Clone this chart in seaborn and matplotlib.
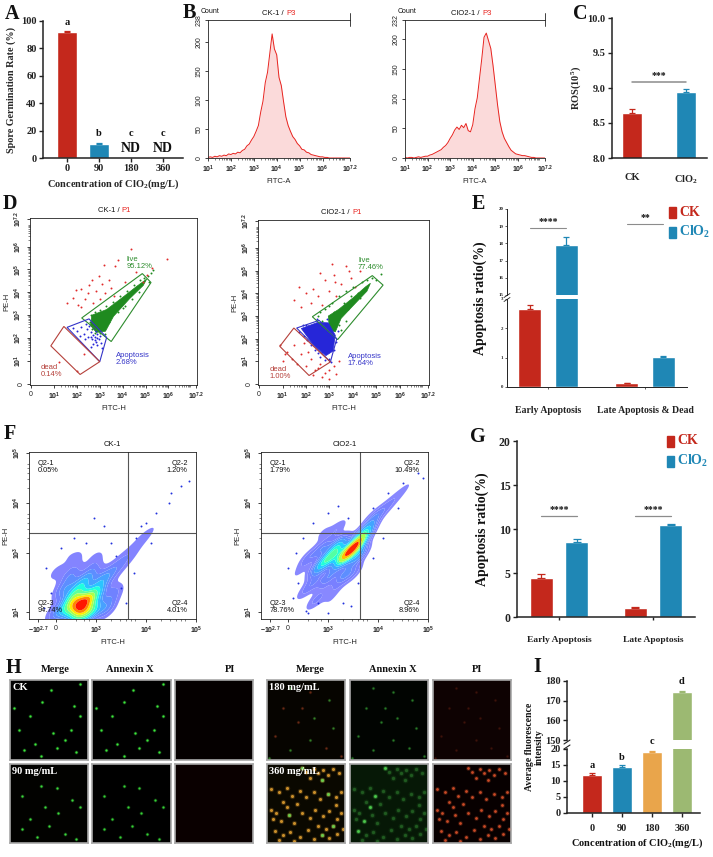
import matplotlib

matplotlib.use("Agg")
import matplotlib.pyplot as plt
import numpy as np
import pandas as pd
import seaborn as sns
from matplotlib.colors import ListedColormap
from matplotlib.container import BarContainer
from matplotlib.lines import Line2D
from matplotlib.patches import Polygon, Rectangle

W, H = 713, 857
SERIF = "Liberation Serif"
SANS = "Liberation Sans"
RED = "#C4281C"
BLUE = "#1F87B5"
ORANGE = "#E9A54B"
OLIVE = "#9CB972"
FLOW_RED = "#E8231F"

# ---------------- data ----------------
# A: spore germination
CONC = ["0", "90", "180", "360"]
GERM_RATE = [92.3, 10.0, 0.0, 0.0]
GERM_ERR = [0.6, 1.3, 0.0, 0.0]
GERM_LETTERS = ["a", "b", "c", "c"]

# B: FITC-A histograms, one count per 0.1 log10 bin from 10^1 to 10^7.2
HIST_LOG = np.round(np.arange(1.0, 7.21, 0.1), 2)
HIST_CK = [1, 2, 1, 3, 2, 4, 3, 5, 4, 7,
           6, 8, 7, 10, 9, 13, 15, 21, 24, 31,
           37, 46, 56, 79, 98, 130, 148, 181, 214, 188,
           178, 139, 125, 97, 71, 56, 46, 37, 32, 25,
           21, 15, 14, 10, 9, 6, 5, 4, 3, 2,
           2, 1, 1, 0, 0, 0, 0, 0, 0, 0,
           0, 0, 0]
HIST_CLO2 = [1, 0, 1, 1, 0, 1, 2, 1, 2, 3,
             3, 5, 6, 8, 10, 12, 14, 18, 21, 26,
             33, 39, 47, 52, 48, 55, 51, 58, 46, 44,
             56, 83, 101, 134, 167, 203, 210, 197, 184, 155,
             122, 89, 61, 44, 33, 26, 19, 13, 10, 7,
             6, 5, 4, 4, 3, 2, 1, 1, 0, 0,
             0, 0, 0]

# C: ROS
ROS_GROUPS = ["CK", "ClO$_2$"]
ROS = [8.65, 8.94]
ROS_ERR = [0.045, 0.045]

# D: gated dot plots (decade units)
D_CK_LIVE_GATE = [(2.21, 2.88), (4.86, 4.82), (5.24, 4.43), (3.50, 1.85)]
D_CK_APO_GATE = [(1.57, 2.47), (2.53, 2.84), (3.30, 2.03), (3.00, 0.97)]
D_CK_DEAD_GATE = [(0.86, 1.66), (1.43, 2.51), (3.00, 0.97), (2.14, 0.41)]
D_CK_GREEN_CORE = [(2.65, 3.00), (3.30, 3.25), (4.00, 3.78), (4.60, 4.25), (5.05, 4.58),
                   (4.90, 4.30), (4.30, 3.72), (3.60, 2.95), (3.25, 2.30), (2.85, 2.25), (2.60, 2.55)]
D_CK_GREEN_DOTS = [(2.60, 3.02), (2.78, 3.12), (3.00, 3.22), (3.28, 3.40), (3.58, 3.58), (3.88, 3.82),
                   (4.18, 4.06), (4.48, 4.30), (4.78, 4.52), (5.10, 4.70), (5.22, 4.85), (3.42, 2.72),
                   (3.80, 3.12), (4.10, 3.42), (4.42, 3.72), (4.72, 4.02), (3.02, 2.22), (2.80, 2.24),
                   (3.22, 2.20), (2.58, 2.70), (5.32, 4.98), (4.02, 3.30), (3.52, 3.22), (2.68, 2.40),
                   (3.10, 2.60), (4.95, 4.62), (5.15, 4.45)]
D_CK_BLUE_DOTS = [(2.00, 2.30), (2.20, 2.50), (2.30, 2.20), (2.45, 2.40), (2.50, 2.05), (2.60, 2.25),
                  (2.65, 1.95), (2.70, 2.15), (2.75, 2.42), (2.80, 2.05), (2.85, 1.85), (2.90, 2.20),
                  (2.95, 1.95), (3.00, 2.10), (2.70, 1.75), (2.55, 2.55), (2.40, 2.62), (2.90, 1.70),
                  (3.05, 1.80), (2.35, 1.95), (2.15, 2.10), (2.60, 1.60), (2.78, 1.90), (2.88, 2.00),
                  (2.82, 2.30), (2.62, 2.05), (1.85, 2.45), (3.10, 1.55)]
D_CK_RED_DOTS = [(1.55, 3.55), (1.85, 3.75), (2.05, 3.45), (2.20, 4.15), (2.35, 3.70), (2.50, 3.95),
                 (2.55, 4.30), (2.70, 3.55), (2.85, 4.05), (3.00, 3.70), (3.10, 4.35), (3.25, 3.95),
                 (3.40, 4.55), (3.50, 4.20), (3.65, 5.15), (3.80, 5.40), (2.95, 4.70), (3.20, 5.20),
                 (4.10, 4.45), (4.60, 4.90), (5.05, 4.75), (5.30, 5.05), (4.90, 4.45), (2.20, 3.35),
                 (1.95, 4.10), (3.60, 3.85), (1.20, 0.95), (2.00, 0.55), (2.30, 1.30), (4.35, 5.88),
                 (5.93, 5.44), (2.65, 4.55)]
D_CK_PCT = ["95.12%", "2.68%", "0.14%"]

D_CL_LIVE_GATE = [(2.27, 2.97), (4.83, 4.79), (5.29, 4.37), (3.35, 1.96)]
D_CL_APO_GATE = [(1.60, 2.47), (2.56, 2.81), (3.31, 1.99), (3.04, 0.97)]
D_CL_DEAD_GATE = [(0.88, 1.66), (1.48, 2.47), (3.04, 0.97), (2.13, 0.37)]
D_CL_GREEN_CORE = [(2.95, 3.00), (3.40, 3.30), (4.00, 3.80), (4.55, 4.30), (4.75, 4.45),
                   (4.60, 4.10), (4.00, 3.45), (3.50, 2.90), (3.25, 2.30), (3.00, 2.40)]
D_CL_BLUE_CORE = [(1.80, 2.45), (2.50, 2.72), (2.95, 2.70), (3.25, 2.15), (3.15, 1.45), (2.85, 1.25), (2.30, 1.75)]
D_CL_GREEN_DOTS = [(2.50, 3.00), (2.80, 3.30), (3.10, 3.60), (3.40, 3.90), (3.70, 4.10), (4.00, 4.30),
                   (4.40, 4.50), (4.80, 4.70), (5.00, 4.60), (2.70, 2.80), (3.20, 3.20), (3.60, 3.60),
                   (4.20, 4.00), (3.50, 2.40), (3.70, 2.80), (3.40, 2.60), (2.60, 3.20), (3.00, 3.45),
                   (3.90, 3.90), (4.60, 4.60), (5.20, 4.85), (3.80, 3.30), (4.30, 3.80)]
D_CL_BLUE_DOTS = [(1.70, 2.30), (1.90, 2.10), (2.10, 2.55), (2.20, 1.70), (2.40, 1.50), (2.60, 1.20),
                  (2.80, 1.05), (3.00, 1.10), (3.20, 1.50), (3.30, 1.85), (3.35, 2.35), (2.00, 2.60),
                  (2.45, 2.85), (2.90, 2.85), (1.85, 2.60), (2.50, 1.35), (2.05, 1.95), (2.70, 1.40),
                  (3.05, 0.95), (1.95, 2.35)]
D_CL_RED_DOTS = [(1.20, 1.40), (1.40, 1.10), (1.60, 0.90), (1.80, 1.30), (2.00, 0.80), (2.20, 1.10),
                 (2.40, 0.60), (2.60, 0.90), (1.50, 1.70), (1.90, 1.80), (2.30, 0.40), (2.70, 0.30),
                 (3.00, 0.60), (3.20, 0.80), (3.00, 0.20), (3.30, 0.45), (1.00, 1.00), (1.10, 1.30),
                 (0.90, 1.70), (2.10, 1.40), (2.50, 0.70), (2.80, 0.50), (3.40, 1.00), (1.50, 3.70),
                 (1.80, 3.40), (2.00, 4.00), (2.20, 3.60), (2.30, 4.20), (2.50, 3.90), (2.70, 3.50),
                 (2.80, 4.60), (3.00, 4.10), (3.20, 4.80), (3.30, 3.90), (3.50, 4.40), (3.70, 5.20),
                 (3.90, 4.70), (4.10, 4.30), (4.30, 5.00), (3.10, 5.30), (2.60, 4.90), (1.70, 4.30),
                 (3.85, 5.00), (3.25, 4.50)]
D_CL_PCT = ["77.46%", "17.64%", "1.00%"]

# E: apoptosis ratio (gated)
E_GROUPS = ["Early Apoptosis", "Late Apoptosis & Dead"]
E_CK = [2.65, 0.12]
E_CK_ERR = [0.14, 0.02]
E_CLO2 = [17.9, 1.02]
E_CLO2_ERR = [0.45, 0.04]
E_SIG = ["****", "**"]

# F: quadrant density plots, (x, y, weight) in display decades
F_CK_DENSITY = [(2.65, 1.95, 10), (2.80, 2.05, 9), (2.55, 2.10, 7), (2.90, 1.85, 7), (2.45, 1.90, 5),
                (2.70, 1.80, 8), (3.00, 2.20, 5), (2.70, 2.35, 5), (2.35, 2.25, 3), (3.10, 2.45, 3),
                (2.50, 2.55, 2.5), (2.90, 2.60, 2.5), (3.30, 2.60, 2), (3.50, 2.80, 1.5), (3.70, 3.00, 1),
                (3.90, 3.25, 0.8), (4.10, 3.45, 0.6), (4.35, 3.70, 0.4), (4.60, 3.95, 0.25), (2.20, 1.80, 2.5),
                (3.20, 1.90, 3), (3.35, 2.20, 2), (2.20, 2.60, 1), (2.60, 2.90, 1), (2.40, 3.00, 0.5),
                (3.00, 2.90, 1)]
F_CK_SPARSE = [(2.30, 3.10), (2.00, 2.70), (2.10, 2.20), (3.50, 2.30), (3.60, 2.00), (3.80, 3.30),
               (4.00, 3.60), (4.20, 3.80), (4.45, 4.00), (4.70, 4.35), (4.85, 4.45), (3.30, 3.20),
               (2.80, 3.20), (1.95, 1.90), (3.75, 2.60), (4.10, 3.20), (4.50, 4.20), (2.55, 3.30),
               (3.40, 2.95), (3.90, 3.55), (3.15, 3.55), (2.95, 3.70)]
F_CK_PCT = ["0.05%", "1.20%", "94.74%", "4.01%"]

F_CL_DENSITY = [(3.50, 3.10, 10), (3.40, 3.00, 9), (3.60, 3.20, 8), (3.30, 2.90, 7), (3.10, 2.95, 6),
                (2.95, 2.85, 5), (3.20, 3.15, 6), (3.60, 2.95, 5), (3.70, 3.35, 5), (3.80, 3.50, 3),
                (2.80, 2.70, 3.5), (2.90, 3.10, 3), (3.00, 2.50, 3), (2.70, 2.40, 2), (2.60, 2.90, 2),
                (3.30, 2.55, 3), (3.50, 2.60, 2), (3.90, 3.70, 2), (4.10, 3.85, 1.5), (4.30, 4.05, 1),
                (4.50, 4.25, 0.7), (4.70, 4.45, 0.4), (2.50, 2.20, 1), (2.80, 2.10, 1.2), (3.10, 2.20, 1.2),
                (2.70, 2.00, 0.8), (3.00, 1.90, 0.6), (2.40, 2.60, 0.8), (3.20, 3.50, 1.5), (2.90, 3.40, 1)]
F_CL_SPARSE = [(2.30, 2.10), (2.20, 2.70), (2.50, 3.30), (2.70, 3.60), (3.00, 3.80), (3.40, 3.70),
               (3.90, 3.90), (4.20, 4.20), (4.50, 4.40), (4.80, 4.60), (4.90, 4.50), (2.60, 1.80),
               (3.00, 1.80), (3.30, 2.00), (2.40, 2.40), (3.90, 2.90), (4.10, 3.30), (2.80, 2.00),
               (3.60, 2.40), (4.40, 3.90), (2.35, 3.00), (3.20, 3.95), (2.55, 1.85), (3.45, 1.95)]
F_CL_PCT = ["1.79%", "10.49%", "78.76%", "8.96%"]

# G: apoptosis ratio (quadrants)
G_GROUPS = ["Early Apoptosis", "Late Apoptosis"]
G_CK = [4.4, 1.0]
G_CK_ERR = [0.5, 0.15]
G_CLO2 = [8.55, 10.4]
G_CLO2_ERR = [0.3, 0.17]

# H: cell positions in the micrographs (fractions of the frame)
H_CK_CELLS = [(0.52, 0.12), (0.90, 0.05), (0.41, 0.28), (0.82, 0.32), (0.25, 0.45), (0.90, 0.45),
              (0.12, 0.62), (0.55, 0.66), (0.78, 0.62), (0.32, 0.80), (0.60, 0.85), (0.18, 0.88),
              (0.40, 0.95), (0.85, 0.90), (0.70, 0.75), (0.05, 0.35)]
H_90_CELLS = [(0.40, 0.28), (0.15, 0.40), (0.80, 0.45), (0.45, 0.55), (0.62, 0.62), (0.90, 0.55),
              (0.25, 0.70), (0.50, 0.78), (0.15, 0.82), (0.70, 0.88), (0.85, 0.95), (0.35, 0.92), (0.60, 0.30)]
H_180_CELLS = [(0.30, 0.10), (0.55, 0.15), (0.80, 0.25), (0.20, 0.35), (0.60, 0.48), (0.40, 0.52),
               (0.85, 0.60), (0.10, 0.70), (0.55, 0.75), (0.75, 0.85), (0.30, 0.88), (0.95, 0.95),
               (0.02, 0.98), (0.45, 0.35)]
H_360_CELLS = [(0.45, 0.05), (0.50, 0.10), (0.60, 0.06), (0.65, 0.12), (0.72, 0.08), (0.78, 0.14),
               (0.85, 0.06), (0.92, 0.12), (0.55, 0.18), (0.70, 0.20), (0.05, 0.32), (0.15, 0.36),
               (0.25, 0.30), (0.32, 0.40), (0.42, 0.34), (0.50, 0.42), (0.60, 0.36), (0.68, 0.44),
               (0.78, 0.38), (0.88, 0.42), (0.95, 0.35), (0.20, 0.48), (0.38, 0.50), (0.05, 0.58),
               (0.12, 0.62), (0.08, 0.70), (0.18, 0.72), (0.28, 0.65), (0.35, 0.75), (0.45, 0.62),
               (0.55, 0.68), (0.62, 0.58), (0.72, 0.66), (0.80, 0.60), (0.90, 0.70), (0.95, 0.62),
               (0.85, 0.78), (0.75, 0.82), (0.65, 0.78), (0.10, 0.85), (0.20, 0.90), (0.30, 0.86),
               (0.42, 0.92), (0.52, 0.84), (0.60, 0.95), (0.70, 0.90), (0.80, 0.94), (0.90, 0.88),
               (0.97, 0.82), (0.15, 0.96), (0.35, 0.97), (0.88, 0.52), (0.25, 0.55)]

# I: fluorescence intensity
FLUO = [11.9, 14.3, 19.0, 174.5]
FLUO_ERR = [0.6, 0.6, 0.5, 0.6]
FLUO_LETTERS = ["a", "b", "c", "d"]

# ---------------- style ----------------
sns.set_theme(style="ticks")
plt.rcParams["font.family"] = [SERIF, "DejaVu Serif"]
plt.rcParams["font.weight"] = "bold"
plt.rcParams["axes.labelweight"] = "bold"
plt.rcParams["axes.edgecolor"] = "#222222"
plt.rcParams["xtick.color"] = "#222222"
plt.rcParams["ytick.color"] = "#222222"
plt.rcParams["text.color"] = "#111111"
plt.rcParams["mathtext.fontset"] = "custom"
plt.rcParams["mathtext.rm"] = "Liberation Serif:bold"
plt.rcParams["mathtext.bf"] = "Liberation Serif:bold"
plt.rcParams["mathtext.it"] = "Liberation Serif:italic:bold"
plt.rcParams["mathtext.sf"] = "Liberation Sans"

fig = plt.figure(figsize=(W / 100, H / 100), dpi=100)
fig.patch.set_facecolor("white")


def px_axes(x0, y0, x1, y1):
    return fig.add_axes([x0 / W, 1 - y1 / H, (x1 - x0) / W, (y1 - y0) / H])


def ftext(x, y, s, **kw):
    fig.text(x / W, 1 - y / H, s, **kw)


def fline(xs, ys, **kw):
    fig.add_artist(Line2D([x / W for x in xs], [1 - y / H for y in ys], transform=fig.transFigure, **kw))


def bar_centers(ax):
    return [[b.get_x() + b.get_width() / 2 for b in c] for c in ax.containers if isinstance(c, BarContainer)]


def up_err(ax, x, y, e, c, cap=2.5):
    ax.errorbar(x, y, yerr=[[0], [e]], fmt="none", ecolor=c, elinewidth=0.9, capsize=cap, capthick=0.9, clip_on=False)


def bar_axes_style(ax, size):
    sns.despine(ax=ax)
    ax.spines["left"].set_linewidth(1.1)
    ax.spines["bottom"].set_linewidth(1.1)
    ax.tick_params(labelsize=size, length=3, width=1, pad=1.5)


def sq_legend(x, y, label, color):
    fig.add_artist(Rectangle((x / W, 1 - (y + 6) / H), 7 / W, 11 / H, transform=fig.transFigure, color=color))
    ftext(x + 10, y, label, color=color, fontsize=10, va="center", ha="left")


def dec(k):
    return r"$\mathsf{10^{%s}}$" % k


def flow_axes(ax):
    for s in ax.spines.values():
        s.set_linewidth(0.6)
        s.set_color("#222222")
    ax.tick_params(which="major", length=2.5, width=0.6, pad=1.5)
    ax.tick_params(which="minor", length=1.5, width=0.4)


def flow_title(ax, left, right):
    t = ax.text(0.55, 1.025, left, transform=ax.transAxes, ha="right", va="bottom",
                fontsize=5.5, family=SANS, weight="normal")
    if right:
        ax.annotate(right, xy=(1, 0), xycoords=t, ha="left", va="bottom",
                    fontsize=5.5, family=SANS, weight="normal", color=FLOW_RED)


def sans_ticks(ax, xt, xl, yt, yl):
    ax.set_xticks(xt, xl, fontsize=5, fontfamily=SANS, fontweight="normal")
    ax.set_yticks(yt, yl, fontsize=5, fontfamily=SANS, fontweight="normal", rotation=90, va="center")


LOG_MINOR = [k + np.log10(m) for k in range(1, 8) for m in range(2, 10) if k + np.log10(m) < 7.2]

# ---------------- A ----------------
axA = px_axes(43, 21, 183, 158)
sns.barplot(x=CONC, y=GERM_RATE, hue=CONC, order=CONC, hue_order=CONC, palette=[RED, BLUE, BLUE, BLUE],
            width=0.65, saturation=1, legend=False, ax=axA)
for i, (v, e) in enumerate(zip(GERM_RATE, GERM_ERR)):
    if e > 0:
        up_err(axA, i, v, e, RED if i == 0 else BLUE)
    if v == 0:
        axA.text(i, 7, "ND", ha="center", va="center", fontsize=10)
for i, let in enumerate(GERM_LETTERS):
    axA.text(i, 99 if i == 0 else 18, let, ha="center", va="center", fontsize=7.5)
axA.set_ylim(0, 100)
axA.set_yticks(range(0, 101, 20))
axA.set_xlim(-0.75, 3.62)
bar_axes_style(axA, 7.5)
axA.set_xlabel("Concentration of ClO$_2$(mg/L)", fontsize=7.5, labelpad=3)
axA.set_ylabel("Spore Germination Rate (%)", fontsize=7.3, labelpad=4)

# ---------------- B ----------------
for rect, counts, ymax, title in [((208, 20, 350, 158), HIST_CK, 238, "CK-1 / "),
                                  ((405, 20, 545, 158), HIST_CLO2, 232, "ClO2-1 / ")]:
    ax = px_axes(*rect)
    ax.fill_between(HIST_LOG, counts, color="#FBDADA", lw=0)
    sns.lineplot(x=HIST_LOG, y=counts, color=FLOW_RED, lw=0.7, ax=ax)
    ax.set_xlim(1, 7.2)
    ax.set_ylim(0, ymax)
    sans_ticks(ax, [1, 2, 3, 4, 5, 6, 7.2], [dec(k) for k in [1, 2, 3, 4, 5, 6, "7.2"]],
               [0, 50, 100, 150, 200, ymax], ["0", "50", "100", "150", "200", str(ymax)])
    ax.set_xticks(LOG_MINOR, minor=True)
    flow_axes(ax)
    ax.spines["right"].set_visible(False)
    ax.plot([1, 1], [0.96, 1.05], transform=ax.transAxes, clip_on=False, lw=0.6, color="#222222")
    ax.set_xlabel("FITC-A", fontsize=5.5, fontfamily=SANS, fontweight="normal", labelpad=2)
    ax.set_ylabel("")
    ax.text(-0.05, 1.035, "Count", transform=ax.transAxes, fontsize=5, family=SANS, weight="normal",
            ha="left", va="bottom")
    flow_title(ax, title, "P3")

# ---------------- C ----------------
axC = px_axes(612, 18, 707, 158)
sns.barplot(x=ROS_GROUPS, y=ROS, hue=ROS_GROUPS, palette=[RED, BLUE], width=0.37, saturation=1,
            legend=False, ax=axC)
for i, (v, e) in enumerate(zip(ROS, ROS_ERR)):
    up_err(axC, i, v, e, [RED, BLUE][i], cap=2.2)
axC.plot([0, 1], [9.09, 9.09], color="#8C8C8C", lw=1.1)
axC.text(0.5, 9.11, "***", ha="center", va="bottom", fontsize=7)
axC.set_ylim(8.0, 10.0)
axC.set_yticks([8.0, 8.5, 9.0, 9.5, 10.0], ["8.0", "8.5", "9.0", "9.5", "10.0"])
axC.set_xlim(-0.37, 1.39)
bar_axes_style(axC, 7.5)
axC.tick_params(axis="x", length=0, pad=11)
axC.set_ylabel("ROS(10$^5$)", fontsize=7.5, labelpad=3)

# ---------------- D ----------------
D_SETS = [
    ((30, 218, 197, 385), "CK-1 / ", D_CK_LIVE_GATE, D_CK_APO_GATE, D_CK_DEAD_GATE, D_CK_GREEN_CORE, None,
     D_CK_GREEN_DOTS, D_CK_BLUE_DOTS, D_CK_RED_DOTS, D_CK_PCT,
     [(4.19, 5.30), (3.71, 1.10), (0.43, 0.56)]),
    ((258, 220, 429, 385), "ClO2-1 / ", D_CL_LIVE_GATE, D_CL_APO_GATE, D_CL_DEAD_GATE, D_CL_GREEN_CORE,
     D_CL_BLUE_CORE, D_CL_GREEN_DOTS, D_CL_BLUE_DOTS, D_CL_RED_DOTS, D_CL_PCT,
     [(4.22, 5.29), (3.78, 1.06), (0.43, 0.46)]),
]
for (rect, title, live, apo, dead, gcore, bcore, gdots, bdots, rdots, pct, lpos) in D_SETS:
    ax = px_axes(*rect)
    ax.add_patch(Polygon(gcore, closed=True, facecolor="#1F8A1F", edgecolor="#1F8A1F", lw=0.5))
    if bcore:
        ax.add_patch(Polygon(bcore, closed=True, facecolor="#2626D8", edgecolor="#2626D8", lw=0.5))
    for pts, col in [(gdots, "#1F8A1F"), (bdots, "#2626D8"), (rdots, "#E02A2A")]:
        xs, ys = zip(*pts)
        sns.scatterplot(x=list(xs), y=list(ys), s=2, color=col, linewidth=0, ax=ax)
    for gate, col in [(live, "#2D8C2D"), (apo, "#3434C8"), (dead, "#B5403A")]:
        ax.add_patch(Polygon(gate, closed=True, fill=False, edgecolor=col, lw=0.8))
    for (tx, ty), name, p, col in zip(lpos, ["live", "Apoptosis", "dead"], pct,
                                      ["#2D8C2D", "#3434C8", "#B5403A"]):
        ax.text(tx, ty, f"{name}\n{p}", color=col, fontsize=5.5, family=SANS, weight="normal",
                ha="left", va="center", linespacing=1.0)
    ax.set_xlim(-0.05, 7.25)
    ax.set_ylim(-0.05, 7.25)
    labs = ["0"] + [dec(k) for k in [1, 2, 3, 4, 5, 6, "7.2"]]
    sans_ticks(ax, [0, 1, 2, 3, 4, 5, 6, 7.2], labs, [0, 1, 2, 3, 4, 5, 6, 7.2], labs)
    ax.set_xticks(LOG_MINOR, minor=True)
    ax.set_yticks(LOG_MINOR, minor=True)
    flow_axes(ax)
    ax.set_xlabel("FITC-H", fontsize=5.5, fontfamily=SANS, fontweight="normal", labelpad=2)
    ax.set_ylabel("PE-H", fontsize=5.5, fontfamily=SANS, fontweight="normal", labelpad=2)
    flow_title(ax, title, "P1")

# ---------------- E (broken axis) ----------------
dfE = pd.DataFrame({"group": E_GROUPS * 2, "treat": ["CK"] * 2 + ["ClO2"] * 2, "value": E_CK + E_CLO2})
axE_top = px_axes(507, 209, 687, 295)
axE_bot = px_axes(507, 299, 687, 387)
for ax, lims, ticks in [(axE_top, (15, 20), [15, 16, 17, 18, 19, 20]), (axE_bot, (0, 3), [0, 1, 2, 3])]:
    sns.barplot(data=dfE, x="group", y="value", hue="treat", palette=[RED, BLUE], width=0.75, gap=0.36,
                saturation=1, legend=False, ax=ax)
    ax.set_ylim(*lims)
    ax.set_yticks(ticks)
    ax.set_xlim(-0.423, 1.433)
    sns.despine(ax=ax)
    ax.spines["left"].set_linewidth(0.7)
    ax.spines["bottom"].set_linewidth(0.7)
    ax.tick_params(labelsize=3.5, length=1.5, width=0.5, pad=1)
    ax.set_xlabel("")
    ax.set_ylabel("")
centsE = bar_centers(axE_bot)
for ci, (vals, errs, col) in enumerate([(E_CK, E_CK_ERR, RED), (E_CLO2, E_CLO2_ERR, BLUE)]):
    for gi, (v, e) in enumerate(zip(vals, errs)):
        up_err(axE_top if v > 15 else axE_bot, centsE[ci][gi], v, e, col, cap=2.5)
axE_top.spines["bottom"].set_visible(False)
axE_top.set_xticks([])
axE_bot.set_xticks([0, 1], E_GROUPS, fontsize=7)
axE_bot.tick_params(axis="x", pad=12, labelsize=7)
for gi, (stars, yl) in enumerate(zip(E_SIG, [18.9, 19.13])):
    axE_top.plot([centsE[0][gi], centsE[1][gi]], [yl, yl], color="#8C8C8C", lw=0.8)
    axE_top.text((centsE[0][gi] + centsE[1][gi]) / 2, yl + 0.1, stars, ha="center", va="bottom", fontsize=7)
fline([504, 510], [297.5, 293.5], color="#222222", lw=0.6)
fline([504, 510], [301.5, 297.5], color="#222222", lw=0.6)
ftext(480, 298, "Apoptosis ratio(%)", rotation=90, ha="center", va="center", fontsize=10)
sq_legend(669, 212, "CK", RED)
sq_legend(669, 232, "ClO$_2$", BLUE)

# ---------------- F ----------------
flow_rgba = plt.get_cmap("jet")(np.linspace(0.1, 0.95, 256))
fade = np.linspace(0.55, 0.0, 90)[:, None]
flow_rgba[:90, :3] = flow_rgba[:90, :3] * (1 - fade) + fade
FLOW_CMAP = ListedColormap(flow_rgba)
F_SETS = [((29, 452, 196, 619), "CK-1", F_CK_DENSITY, F_CK_SPARSE, F_CK_PCT),
          ((261, 452, 428, 619), "ClO2-1", F_CL_DENSITY, F_CL_SPARSE, F_CL_PCT)]
for rect, title, dens, sparse, pct in F_SETS:
    ax = px_axes(*rect)
    kx, ky, kw = zip(*dens)
    sns.kdeplot(x=list(kx), y=list(ky), weights=list(kw), fill=True, cmap=FLOW_CMAP, levels=12,
                thresh=0.06, bw_adjust=0.6, antialiased=True, ax=ax)
    sx, sy = zip(*sparse)
    sns.scatterplot(x=list(sx), y=list(sy), s=2, color="#2233DD", linewidth=0, ax=ax)
    ax.axvline(3.64, color="#555555", lw=0.8)
    ax.axhline(3.40, color="#555555", lw=0.8)
    ax.set_xlim(1.66, 5.0)
    ax.set_ylim(1.68, 5.02)
    sans_ticks(ax, [1.84, 2.2, 3, 4, 5], [r"$\mathsf{-10^{2.7}}$", "0", dec(3), dec(4), dec(5)],
               [1.82, 3, 4, 5], [dec(1), dec(3), dec(4), dec(5)])
    ax.set_xticks([2.6, 2.75, 2.85, 3.3, 3.48, 3.6, 3.7, 3.78, 4.3, 4.48, 4.6, 4.7, 4.78], minor=True)
    ax.set_yticks([3.3, 3.48, 3.6, 3.7, 3.78, 4.3, 4.48, 4.6, 4.7, 4.78], minor=True)
    flow_axes(ax)
    ax.set_xlabel("FITC-H", fontsize=5.5, fontfamily=SANS, fontweight="normal", labelpad=2)
    ax.set_ylabel("PE-H", fontsize=5.5, fontfamily=SANS, fontweight="normal", labelpad=2)
    ax.text(0.5, 1.025, title, transform=ax.transAxes, ha="center", va="bottom", fontsize=5.5,
            family=SANS, weight="normal")
    kw_txt = dict(transform=ax.transAxes, fontsize=5.3, family=SANS, weight="normal", linespacing=1.0)
    ax.text(0.05, 0.95, f"Q2-1\n{pct[0]}", ha="left", va="top", **kw_txt)
    ax.text(0.95, 0.95, f"Q2-2\n{pct[1]}", ha="right", va="top", **kw_txt)
    ax.text(0.05, 0.03, f"Q2-3\n{pct[2]}", ha="left", va="bottom", **kw_txt)
    ax.text(0.95, 0.03, f"Q2-4\n{pct[3]}", ha="right", va="bottom", **kw_txt)

# ---------------- G ----------------
dfG = pd.DataFrame({"group": G_GROUPS * 2, "treat": ["CK"] * 2 + ["ClO2"] * 2, "value": G_CK + G_CLO2})
axG = px_axes(517, 441, 695, 617)
sns.barplot(data=dfG, x="group", y="value", hue="treat", palette=[RED, BLUE], width=0.75, gap=0.35,
            saturation=1, legend=False, ax=axG)
centsG = bar_centers(axG)
for ci, (vals, errs, col) in enumerate([(G_CK, G_CK_ERR, RED), (G_CLO2, G_CLO2_ERR, BLUE)]):
    for gi, (v, e) in enumerate(zip(vals, errs)):
        up_err(axG, centsG[ci][gi], v, e, col, cap=3)
for gi in range(2):
    axG.plot([centsG[0][gi], centsG[1][gi]], [11.5, 11.5], color="#8C8C8C", lw=0.9)
    axG.text((centsG[0][gi] + centsG[1][gi]) / 2, 11.7, "****", ha="center", va="bottom", fontsize=7)
axG.set_ylim(0, 20)
axG.set_yticks([0, 5, 10, 15, 20])
axG.set_xlim(-0.447, 1.447)
bar_axes_style(axG, 8.5)
axG.set_xticks([0, 1], G_GROUPS)
axG.tick_params(axis="x", labelsize=6.8, pad=12, length=2)
axG.set_xlabel("")
axG.set_ylabel("")
ftext(482, 529, "Apoptosis ratio(%)", rotation=90, ha="center", va="center", fontsize=10)
sq_legend(667, 441, "CK", RED)
sq_legend(667, 461, "ClO$_2$", BLUE)

# ---------------- H ----------------
H_COLS_LEFT = [(10, 88), (92, 171), (175, 253)]
H_COLS_RIGHT = [(267, 345), (350, 428), (433, 511)]
H_ROWS = [(680, 760), (764, 843)]


def micro(rect, bg, layers, label=None):
    ax = px_axes(*rect)
    ax.set_facecolor(bg)
    ax.set_xlim(0, 1)
    ax.set_ylim(1, 0)
    ax.set_xticks([])
    ax.set_yticks([])
    for s in ax.spines.values():
        s.set_color("#A8A8A8")
        s.set_linewidth(1.2)
    for pts, col, size in layers:
        xs, ys = zip(*pts)
        ax.scatter(xs, ys, s=size * 3, color=col, alpha=0.25, linewidths=0)
        ax.scatter(xs, ys, s=size, color=col, linewidths=0)
    if label:
        ax.text(0.03, 0.96, label, transform=ax.transAxes, color="white", fontsize=7.5, ha="left", va="top")


def cell(cols, row, k):
    return (cols[k][0], H_ROWS[row][0], cols[k][1], H_ROWS[row][1])


micro(cell(H_COLS_LEFT, 0, 0), "#000000", [(H_CK_CELLS, "#3CE83C", 2.5)], "CK")
micro(cell(H_COLS_LEFT, 0, 1), "#000000", [(H_CK_CELLS, "#3CE83C", 2.5)])
micro(cell(H_COLS_LEFT, 0, 2), "#050000", [])
micro(cell(H_COLS_LEFT, 1, 0), "#020200", [(H_90_CELLS, "#3CD83C", 2.5)], "90 mg/mL")
micro(cell(H_COLS_LEFT, 1, 1), "#000000", [(H_90_CELLS, "#36D036", 2.5)])
micro(cell(H_COLS_LEFT, 1, 2), "#0A0000", [])
micro(cell(H_COLS_RIGHT, 0, 0), "#060400", [(H_180_CELLS[::2], "#347F28", 2.2), (H_180_CELLS[1::2], "#6A2A15", 2.2)],
      "180 mg/mL")
micro(cell(H_COLS_RIGHT, 0, 1), "#010401", [(H_180_CELLS, "#287A28", 2.2)])
micro(cell(H_COLS_RIGHT, 0, 2), "#0E0202", [(H_180_CELLS, "#3E120A", 2)])
micro(cell(H_COLS_RIGHT, 1, 0), "#0A0800", [(H_360_CELLS, "#C98E2A", 5), (H_360_CELLS[::9], "#5FD050", 4)],
      "360 mg/mL")
micro(cell(H_COLS_RIGHT, 1, 1), "#061806", [(H_360_CELLS, "#1F5A1F", 6), (H_360_CELLS[::13], "#4CC84C", 4)])
micro(cell(H_COLS_RIGHT, 1, 2), "#070000", [(H_360_CELLS, "#C84A26", 4)])
for x, s in [(55, "Merge"), (130, "Annexin X"), (230, "PI"), (310, "Merge"), (393, "Annexin X"), (477, "PI")]:
    ftext(x, 669, s, ha="center", va="center", fontsize=7.5)

# ---------------- I (broken axis) ----------------
axI_top = px_axes(567, 681, 700, 740)
axI_bot = px_axes(567, 749, 700, 813)
I_COLORS = [RED, BLUE, ORANGE, OLIVE]
for ax, lims, ticks in [(axI_top, (150, 180), [150, 160, 170, 180]), (axI_bot, (0, 20), [0, 5, 10, 15, 20])]:
    sns.barplot(x=CONC, y=FLUO, hue=CONC, order=CONC, hue_order=CONC, palette=I_COLORS, width=0.67,
                saturation=1, legend=False, ax=ax)
    ax.set_ylim(*lims)
    ax.set_yticks(ticks)
    ax.set_xlim(-0.83, 3.6)
    bar_axes_style(ax, 7.5)
for i, (v, e) in enumerate(zip(FLUO, FLUO_ERR)):
    up_err(axI_top if v > 150 else axI_bot, i, v, e, I_COLORS[i], cap=2.2)
axI_top.spines["bottom"].set_visible(False)
axI_top.set_xticks([])
axI_bot.tick_params(axis="x", pad=5)
for i, (let, y) in enumerate(zip(FLUO_LETTERS[:3], [15.0, 17.5, 22.5])):
    axI_bot.text(i, y, let, ha="center", va="center", fontsize=7.5, clip_on=False)
axI_top.text(3, 179.5, FLUO_LETTERS[3], ha="center", va="center", fontsize=7.5, clip_on=False)
fline([564, 570], [744, 740], color="#222222", lw=0.8)
fline([564, 570], [749, 745], color="#222222", lw=0.8)
ftext(534, 747, "Average fluorescence\nintensity", rotation=90, ha="center", va="center", fontsize=7,
      linespacing=1.1)
ftext(637, 843, "Concentration of ClO$_2$(mg/L)", ha="center", va="center", fontsize=7.5)

# ---------------- panel letters ----------------
for x, y, s in [(12, 14, "A"), (189, 13, "B"), (580, 14, "C"), (10, 204, "D"), (478, 204, "E"),
                (10, 434, "F"), (478, 437, "G"), (14, 668, "H"), (537, 667, "I")]:
    ftext(x, y, s, ha="center", va="center", fontsize=14.5)

fig.savefig("out.png", dpi=100)
